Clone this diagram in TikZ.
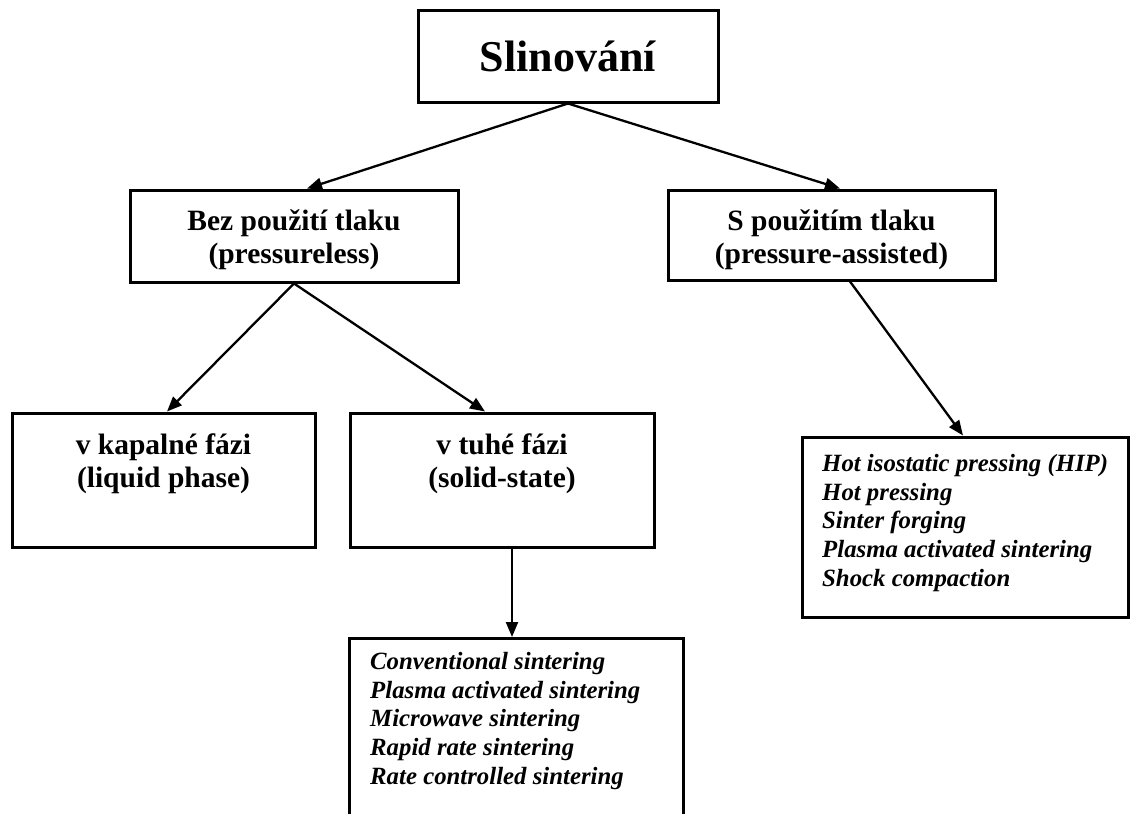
\documentclass[tikz,border=0pt]{standalone}
\usepackage{fontspec}
\setmainfont{Liberation Serif}
\usetikzlibrary{arrows.meta}
\begin{document}
\begin{tikzpicture}[x=1pt,y=-1pt,
  box/.style={draw=black,line width=3pt,rectangle,inner sep=0pt,fill=white},
  head/.style={align=center,inner sep=0pt,font=\fontsize{29.5}{33}\selectfont\bfseries},
  listtxt/.style={align=left,anchor=north west,inner sep=0pt,font=\fontsize{24.8}{28.7}\selectfont\bfseries\itshape},
  arr/.style={line width=2.3pt,-{Triangle[length=15pt,width=12pt]}}]
\clip (0,0) rectangle (1130,814);
\fill[white] (0,0) rectangle (1130,814);
% boxes
\node[box,minimum width=300,minimum height=92,font=\fontsize{44}{48}\selectfont\bfseries] (top) at (568,56) {Slinování};
\node[box,minimum width=328,minimum height=92] (bez) at (294,236) {};
\node[head] (bezt) at (294,240) {Bez použití tlaku\\(pressureless)};
\node[box,minimum width=327,minimum height=90] (s) at (831.5,235) {};
\node[head] (st) at (831.5,240) {S použitím tlaku\\(pressure-assisted)};
\node[box,minimum width=303,minimum height=134] (kap) at (163.5,480) {};
\node[head] (kapt) at (163.5,464) {v kapalné fázi\\(liquid phase)};
\node[box,minimum width=304,minimum height=134] (tuh) at (502,480) {};
\node[head] (tuht) at (502,464) {v tuhé fázi\\(solid-state)};
\node[box,minimum width=334,minimum height=200,anchor=north] (l1) at (516,637) {};
\node[listtxt] (l1t) at (370,652) {Conventional sintering\\Plasma activated sintering\\Microwave sintering\\Rapid rate sintering\\Rate controlled sintering};
\node[box,minimum width=326,minimum height=180] (l2) at (965,527) {};
\node[listtxt] (l2t) at (822,454) {Hot isostatic pressing (HIP)\\Hot pressing\\Sinter forging\\Plasma activated sintering\\Shock compaction};
% connectors
\draw[arr] (top.south) -- ([xshift=13pt]bez.north);
\draw[arr] (top.south) -- ([xshift=8.5pt]s.north);
\draw[arr] (bez.south) -- ([xshift=3.5pt]kap.north);
\draw[arr] (bez.south) -- ([xshift=-17pt]tuh.north);
\draw[arr] ([xshift=10pt]tuh.south) -- ([xshift=-4pt]l1.north);
\draw[arr] ([xshift=18.5pt]s.south) -- ([xshift=-2pt]l2.north);
\end{tikzpicture}
\end{document}
